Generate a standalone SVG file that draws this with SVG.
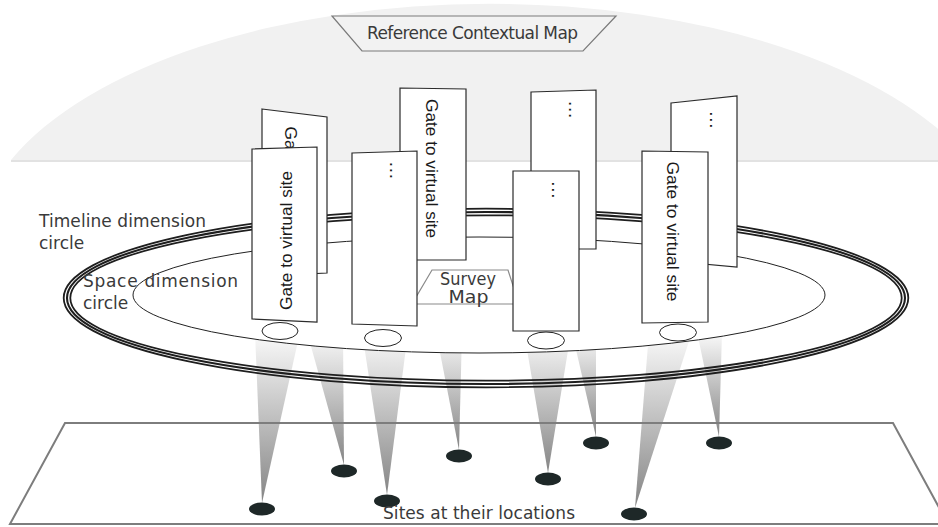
<svg xmlns="http://www.w3.org/2000/svg" width="938" height="527" viewBox="0 0 938 527">
  <defs>
    <style>
      .panel { fill: #ffffff; stroke: #2b2b2b; stroke-width: 1.2; }
      .gate { font-family: "Liberation Sans", Arial, sans-serif; font-size: 17px; fill: #1a1a1a; }
      .dots { font-family: "Liberation Sans", Arial, sans-serif; font-size: 19px; letter-spacing: 0.7px; fill: #1a1a1a; }
      .label { font-family: "DejaVu Sans", "Liberation Sans", sans-serif; font-size: 17px; fill: #3a3a3a; }
      .beam { fill: url(#beamFade); }
      .site { fill: #1e2828; }
      .foot { fill: #ffffff; stroke: #222222; stroke-width: 1; }
      .ring { fill: none; stroke: #1e1e1e; }
    </style>
    <linearGradient id="beamFade" x1="0" y1="0" x2="0" y2="1">
      <stop offset="0" stop-color="#fbfbfb"/>
      <stop offset="1" stop-color="#858585"/>
    </linearGradient>
  </defs>

  <!-- reference map dome -->
  <g id="reference-map">
    <path d="M11,160 A515,247 0 0 1 969,160 Z" fill="#f1f1f1"/>
    <line x1="11" y1="161" x2="938" y2="161" stroke="#e2e2e2" stroke-width="2"/>
    <polygon points="332,16 616,16 583,51 362,51" fill="#f2f2f2" stroke="#7a7a7a" stroke-width="1.2"/>
    <text class="label" x="367" y="39" font-size="11.5" textLength="211" lengthAdjust="spacing">Reference Contextual Map</text>
  </g>

  <!-- light beams from the gates down to the sites -->
  <g id="beams">
    <polygon class="beam" points="255,332 300,332 262,503"/>
    <polygon class="beam" points="307,332 343,332 344,465"/>
    <polygon class="beam" points="362,332 408,332 387,495"/>
    <polygon class="beam" points="436,332 462,332 459,450"/>
    <polygon class="beam" points="524,332 571,332 548,473"/>
    <polygon class="beam" points="572,332 596,332 596,437"/>
    <polygon class="beam" points="649,332 692,332 635,508"/>
    <polygon class="beam" points="697,332 722,332 719,437"/>
  </g>

  <!-- space dimension circle -->
  <g id="space-circle">
    <ellipse cx="479" cy="295" rx="346" ry="58" fill="#ffffff" stroke="#222222" stroke-width="1"/>
  </g>

  <!-- timeline dimension circle (triple line) -->
  <g id="timeline-circle">
    <ellipse class="ring" cx="486" cy="298" rx="422.3" ry="89.3" stroke-width="1.8"/>
    <ellipse class="ring" cx="486" cy="298" rx="419" ry="86" stroke-width="2.1"/>
    <ellipse class="ring" cx="486" cy="298" rx="415.7" ry="82.7" stroke-width="1.8"/>
  </g>

  <!-- survey map -->
  <g id="survey-map">
    <polygon points="432,270 508,270 519,304 412,304" fill="#ffffff" stroke="#8a8a8a" stroke-width="1.2"/>
    <text class="label" x="468" y="285" font-size="12" text-anchor="middle" textLength="56" lengthAdjust="spacingAndGlyphs">Survey</text>
    <text class="label" x="468.5" y="302.5" font-size="12" text-anchor="middle" textLength="40" lengthAdjust="spacingAndGlyphs">Map</text>
  </g>

  <!-- back row of gates -->
  <g id="gate-back-1">
    <polygon class="panel" points="262,109 327,117 327,273 262,276"/>
    <text class="gate" transform="translate(285,126.5) rotate(90)" textLength="139" lengthAdjust="spacingAndGlyphs">Gate to virtual site</text>
  </g>
  <g id="gate-back-2">
    <polygon class="panel" points="400,88 466,89 466,260 400,260"/>
    <text class="gate" transform="translate(425.5,99) rotate(90)" textLength="139" lengthAdjust="spacingAndGlyphs">Gate to virtual site</text>
  </g>
  <g id="gate-back-3">
    <polygon class="panel" points="531,92 596,90 596,249 531,249"/>
    <text class="dots" transform="translate(569,101) rotate(90)">...</text>
  </g>
  <g id="gate-back-4">
    <polygon class="panel" points="671,103 737,96 737,267 671,261"/>
    <text class="dots" transform="translate(710,111.3) rotate(90)">...</text>
  </g>

  <!-- front row of gates -->
  <g id="gate-front-1">
    <polygon class="panel" points="252,149 317,147 317,322 252,319"/>
    <text class="gate" transform="translate(291.5,310) rotate(-90)" textLength="139" lengthAdjust="spacingAndGlyphs">Gate to virtual site</text>
    <ellipse class="foot" cx="280" cy="331" rx="18" ry="8.5"/>
  </g>
  <g id="gate-front-2">
    <polygon class="panel" points="352,153 417,151 417,326 352,324"/>
    <text class="dots" transform="translate(390,161.8) rotate(90)">...</text>
    <ellipse class="foot" cx="383" cy="338" rx="18.5" ry="8.5"/>
  </g>
  <g id="gate-front-3">
    <polygon class="panel" points="513,171 579,171 579,331 513,331"/>
    <text class="dots" transform="translate(552,181.3) rotate(90)">...</text>
    <ellipse class="foot" cx="546" cy="340.5" rx="18.5" ry="8.5"/>
  </g>
  <g id="gate-front-4">
    <polygon class="panel" points="642,151 708,152 708,322 642,323"/>
    <text class="gate" transform="translate(667,161.5) rotate(90)" textLength="140" lengthAdjust="spacingAndGlyphs">Gate to virtual site</text>
    <ellipse class="foot" cx="678" cy="332.5" rx="18.5" ry="8.5"/>
  </g>

  <!-- ground plane with the sites -->
  <g id="ground">
    <polygon points="65,423 893,423 948,524 10,524" fill="none" stroke="#7d7d7d" stroke-width="2"/>
    <ellipse class="site" cx="262" cy="509" rx="13" ry="6.5"/>
    <ellipse class="site" cx="344" cy="471" rx="13" ry="6.5"/>
    <ellipse class="site" cx="387" cy="501" rx="13" ry="6.5"/>
    <ellipse class="site" cx="459" cy="456" rx="13" ry="6.5"/>
    <ellipse class="site" cx="548" cy="479" rx="13" ry="6.5"/>
    <ellipse class="site" cx="596" cy="443" rx="13" ry="6.5"/>
    <ellipse class="site" cx="634" cy="514" rx="13" ry="6.5"/>
    <ellipse class="site" cx="719" cy="443" rx="13" ry="6.5"/>
    <text class="label" x="383" y="519" font-size="13" textLength="192" lengthAdjust="spacing">Sites at their locations</text>
  </g>

  <!-- circle labels -->
  <g id="labels">
    <text class="label" x="39" y="227" textLength="167" lengthAdjust="spacing">Timeline dimension</text>
    <text class="label" x="39" y="249">circle</text>
    <text class="label" x="83" y="287" textLength="155" lengthAdjust="spacing">Space dimension</text>
    <text class="label" x="83" y="308.5">circle</text>
  </g>
</svg>
